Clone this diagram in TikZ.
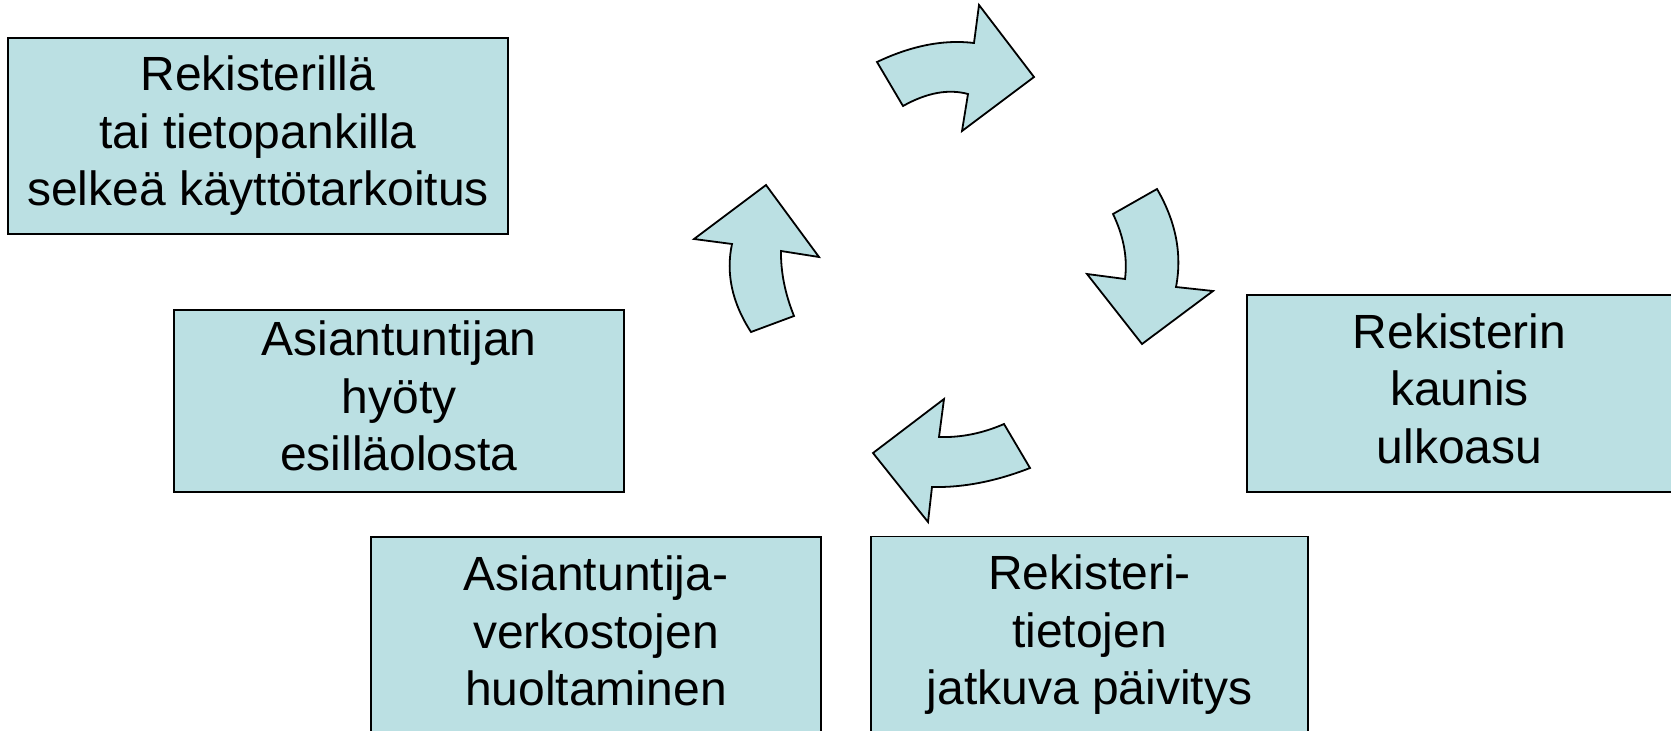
\documentclass[tikz,border=0pt]{standalone}
\usepackage{fontspec}
\setmainfont{Liberation Sans}
\definecolor{boxfill}{RGB}{187,224,227}
\tikzset{
  infobox/.style={draw=black, fill=boxfill, line width=1.6pt, align=center,
    inner sep=0pt, font=\fontsize{48}{57.5}\selectfont,
    execute at begin node=\rule{0pt}{46pt},
    execute at end node=\rule[-10pt]{0pt}{0pt}},
  cyclearrow/.style={draw=black, fill=boxfill, line width=1.8pt, line join=miter}
}
\begin{document}
\begin{tikzpicture}[x=1pt, y=-1pt]
    \useasboundingbox (0, 0) rectangle (1671, 731);
    % text boxes
    \node [infobox, minimum width=500pt, minimum height=196pt] (kaytto) at (258, 136)
      {Rekisterillä\\tai tietopankilla\\selkeä käyttötarkoitus};
    \node [infobox, minimum width=450pt, minimum height=182pt] (hyoty) at (399, 401)
      {Asiantuntijan\\hyöty\\esilläolosta};
    \node [infobox, minimum width=425pt, minimum height=197pt] (ulkoasu) at (1459.5, 393.5)
      {Rekisterin\\kaunis\\ulkoasu};
    \node [infobox, minimum width=450pt, minimum height=198pt] (verkostot) at (596, 636)
      {Asiantuntija-\\verkostojen\\huoltaminen};
    \node [infobox, minimum width=437pt, minimum height=197pt] (paivitys) at (1089.5, 635)
      {Rekisteri-\\tietojen\\jatkuva päivitys};
    % curved arrows of the cycle
    \draw [cyclearrow] (877, 62) -- (903, 106)
      .. controls (926.7, 92.7) and (948.3, 88.7) .. (968, 94)
      -- (962, 131) -- (1034, 77) -- (979, 5) -- (974, 43)
      .. controls (943.7, 39.3) and (911.3, 45.7) .. (877, 62) -- cycle;
    \draw [cyclearrow] (1157, 189)
      .. controls (1176, 221.7) and (1182.3, 254.3) .. (1176, 287)
      -- (1213, 291) -- (1142, 344) -- (1087, 274) -- (1125, 279)
      .. controls (1127.7, 258) and (1123.7, 236.3) .. (1113, 214) -- cycle;
    \draw [cyclearrow] (1030, 468)
      .. controls (996, 481.3) and (963.3, 487.7) .. (932, 487)
      -- (928, 522) -- (873, 453) -- (944, 399) -- (939, 437)
      .. controls (961, 437.7) and (982.7, 433.3) .. (1004, 424) -- cycle;
    \draw [cyclearrow] (751, 332)
      .. controls (732, 302.7) and (725.7, 273.3) .. (732, 244)
      -- (694, 239) -- (766, 185) -- (819, 257) -- (781, 251)
      .. controls (780.7, 272) and (785, 293.7) .. (794, 316) -- cycle;
\end{tikzpicture}
\end{document}
